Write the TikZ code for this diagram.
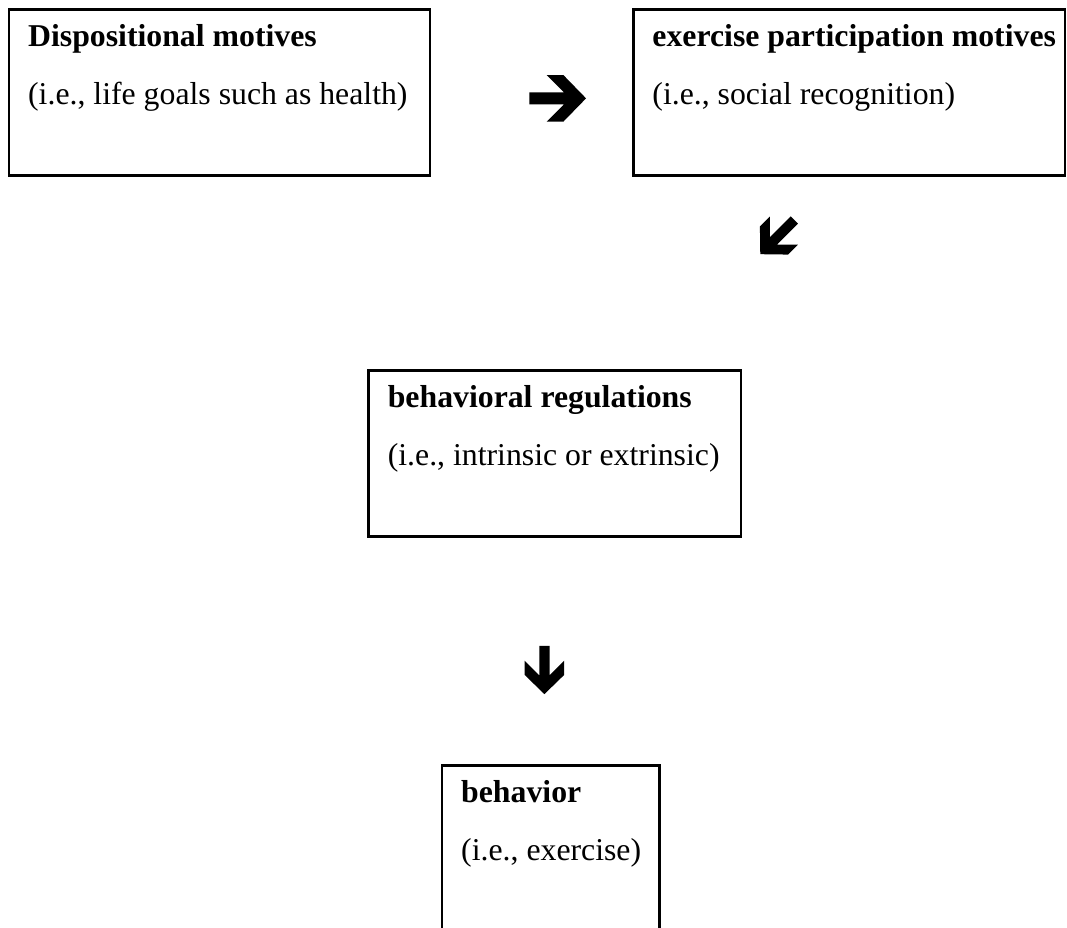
\documentclass[tikz,border=0pt]{standalone}
\usepackage{fontspec}
\setmainfont{Liberation Serif}
\usetikzlibrary{positioning, calc}

\begin{document}
\begin{tikzpicture}[
    box/.style={rectangle, draw, line width=1pt, minimum height=2.15cm, inner sep=0pt},
    head/.style={anchor=base west, inner sep=0pt, font=\fontsize{11.7}{14}\selectfont\bfseries},
    sub/.style={anchor=base west, inner sep=0pt, font=\fontsize{11.7}{14}\selectfont},
    fatarrow/.pic={\fill (0,0) -- (-0.294,0.302) -- (-0.509,0.302) -- (-0.285,0.078) -- (-0.734,0.078) -- (-0.734,-0.078) -- (-0.285,-0.078) -- (-0.509,-0.302) -- (-0.294,-0.302) -- cycle;}
]
    \useasboundingbox (0,0) rectangle (13.81,12);
    \clip (0,0) rectangle (13.81,12);

    % Boxes
    \node[box, minimum width=5.45cm] (disp) at (2.84,10.8) {};
    \node[box, minimum width=5.59cm] (part) at (10.99,10.8) {};
    \node[box, minimum width=4.82cm] (reg) at (7.18,6.13) {};
    \node[box, minimum width=2.82cm] (beh) at (7.13,1.02) {};

    % Texts
    \node[head] (disphead) at ($(disp.north west)+(0.26,-0.5)$) {Dispositional motives};
    \node[sub] (dispsub) at ($(disphead.base west)+(0,-0.75)$) {(i.e., life goals such as health)};
    \node[head] (parthead) at ($(part.north west)+(0.26,-0.5)$) {exercise participation motives};
    \node[sub] (partsub) at ($(parthead.base west)+(0,-0.75)$) {(i.e., social recognition)};
    \node[head] (reghead) at ($(reg.north west)+(0.26,-0.5)$) {behavioral regulations};
    \node[sub] (regsub) at ($(reghead.base west)+(0,-0.75)$) {(i.e., intrinsic or extrinsic)};
    \node[head] (behhead) at ($(beh.north west)+(0.26,-0.5)$) {behavior};
    \node[sub] (behsub) at ($(behhead.base west)+(0,-0.75)$) {(i.e., exercise)};

    % Arrows
    \pic (arrright) at (7.585,10.727) {fatarrow};
    \pic[rotate=-135, scale=0.85] (arrdiag) at (9.84,8.71) {fatarrow};
    \pic[rotate=-90, scale=0.85] (arrdown) at (7.046,3.016) {fatarrow};
\end{tikzpicture}
\end{document}
